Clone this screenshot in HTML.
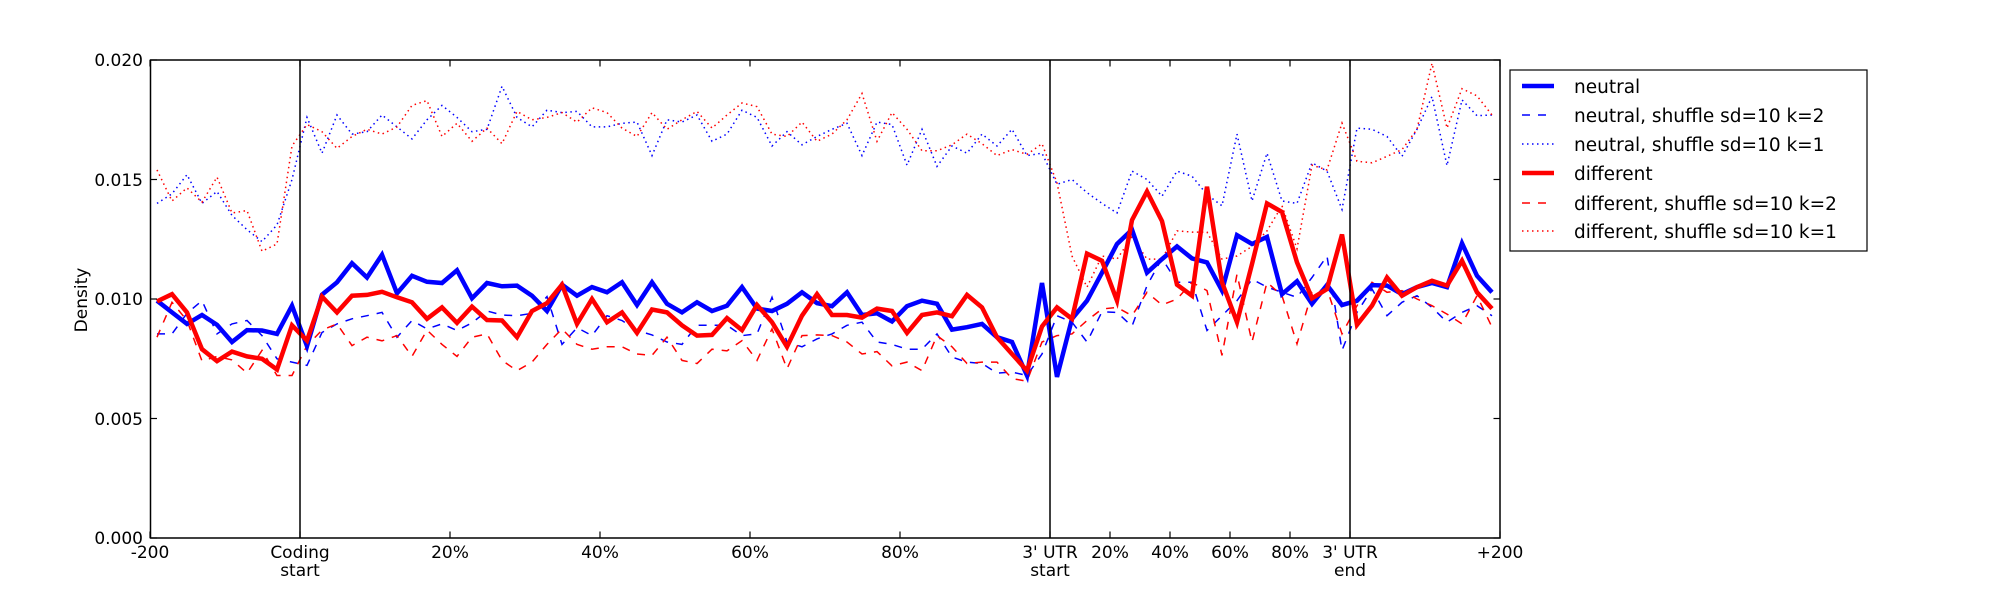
<!DOCTYPE html>
<html><head><meta charset="utf-8"><style>
html,body{margin:0;padding:0;background:#fff;}
svg{display:block;font-family:"DejaVu Sans","Liberation Sans",sans-serif;}
</style></head><body>
<svg id="s" width="2000" height="600" xmlns="http://www.w3.org/2000/svg">
<rect width="2000" height="600" fill="#fff"/>
<g id="lines"></g>
<g stroke="#000" stroke-width="1.5">
<line x1="300" y1="60" x2="300" y2="538"/>
<line x1="1050" y1="60" x2="1050" y2="538"/>
<line x1="1350" y1="60" x2="1350" y2="538"/>
</g>
<rect x="150.5" y="60" width="1349.5" height="478" fill="none" stroke="#000" stroke-width="1.5"/>
<g id="ticks" stroke="#000" stroke-width="1.2"></g>
<g font-size="17" fill="#000">
<text x="143" y="66" text-anchor="end">0.020</text>
<text x="143" y="186" text-anchor="end">0.015</text>
<text x="143" y="305" text-anchor="end">0.010</text>
<text x="143" y="425" text-anchor="end">0.005</text>
<text x="143" y="544" text-anchor="end">0.000</text>
<text x="87" y="300" text-anchor="middle" transform="rotate(-90 87 300)">Density</text>
<g text-anchor="middle">
<text x="150" y="558">-200</text>
<text x="300" y="558">Coding</text><text x="300" y="576">start</text>
<text x="450" y="558">20%</text>
<text x="600" y="558">40%</text>
<text x="750" y="558">60%</text>
<text x="900" y="558">80%</text>
<text x="1050" y="558">3' UTR</text><text x="1050" y="576">start</text>
<text x="1110" y="558">20%</text>
<text x="1170" y="558">40%</text>
<text x="1230" y="558">60%</text>
<text x="1290" y="558">80%</text>
<text x="1350" y="558">3' UTR</text><text x="1350" y="576">end</text>
<text x="1500" y="558">+200</text>
</g>
</g>
<rect x="1510" y="70" width="357" height="181" fill="#fff" stroke="#000" stroke-width="1.2"/>
<g stroke-width="1.5">
<line x1="1522" y1="86" x2="1554" y2="86" stroke="#0000ff" stroke-width="4.5"/>
<line x1="1522" y1="115" x2="1554" y2="115" stroke="#0000ff" stroke-dasharray="8,8"/>
<line x1="1522" y1="144" x2="1554" y2="144" stroke="#0000ff" stroke-dasharray="1.5,3.5"/>
<line x1="1522" y1="173" x2="1554" y2="173" stroke="#ff0000" stroke-width="4.5"/>
<line x1="1522" y1="203" x2="1554" y2="203" stroke="#ff0000" stroke-dasharray="8,8"/>
<line x1="1522" y1="231" x2="1554" y2="231" stroke="#ff0000" stroke-dasharray="1.5,3.5"/>
</g>
<g font-size="18.5" fill="#000">
<text x="1574" y="93">neutral</text>
<text x="1574" y="122">neutral, shuffle sd=10 k=2</text>
<text x="1574" y="151">neutral, shuffle sd=10 k=1</text>
<text x="1574" y="180">different</text>
<text x="1574" y="210">different, shuffle sd=10 k=2</text>
<text x="1574" y="238">different, shuffle sd=10 k=1</text>
</g>
</svg>
<script>
var D={
bs:[9.93,9.44,8.96,9.33,8.92,8.2,8.7,8.68,8.54,9.72,8.03,10.18,10.7,11.5,10.9,11.85,10.24,10.97,10.72,10.67,11.2,10.03,10.67,10.53,10.56,10.14,9.5,10.6,10.14,10.5,
10.28,10.7,9.75,10.7,9.8,9.44,9.86,9.5,9.72,10.5,9.6,9.5,9.8,10.28,9.83,9.7,10.28,9.33,9.4,9.06,9.7,9.93,9.8,8.72,8.82,8.96,8.4,8.2,6.8,10.67,6.74,9.17,9.93,11.1,12.3,12.9,11.1,11.67,12.2,11.7,
11.53,10.35,12.67,12.3,12.6,10.2,10.74,9.8,10.58,9.75,9.93,10.58,10.56,10.2,10.5,10.67,10.5,12.33,10.97,10.28],
rs:[9.9,10.2,9.44,7.9,7.4,7.8,7.6,7.5,7.05,8.9,8.26,10.1,9.44,10.14,10.17,10.3,10.07,9.86,9.17,9.65,9.0,9.68,9.12,9.1,8.4,9.5,9.83,10.6,8.96,10.0,
9.03,9.44,8.58,9.56,9.44,8.9,8.47,8.5,9.2,8.7,9.75,9.03,8.0,9.3,10.2,9.33,9.33,9.22,9.6,9.5,8.58,9.33,9.44,9.28,10.17,9.65,8.4,7.7,7.0,8.85,9.65,9.17,11.9,11.6,9.93,13.3,14.5,13.26,10.6,10.14,
14.7,10.7,9.03,11.46,14.0,13.64,11.53,10.03,10.42,12.7,8.92,9.72,10.9,10.14,10.5,10.76,10.56,11.6,10.28,9.6],
bd:[8.54,8.54,9.4,9.93,8.54,8.96,9.1,8.47,7.5,7.36,7.22,8.6,8.96,9.17,9.3,9.44,8.4,9.1,8.75,8.96,8.68,9.0,9.5,9.33,9.3,9.4,10.1,8.1,8.8,8.47,
9.3,9.1,8.68,8.5,8.2,8.1,8.9,8.9,8.9,8.47,8.54,10.07,8.2,8.0,8.33,8.54,8.9,9.03,8.2,8.1,7.9,7.9,8.54,7.57,7.36,7.3,6.9,6.94,6.8,7.7,9.3,9.03,8.2,9.47,9.44,8.86,10.56,11.7,10.7,10.7,
8.68,9.3,9.93,10.83,10.5,10.28,10.07,10.9,11.8,7.85,9.44,10.42,9.3,9.86,10.14,9.65,9.03,9.44,9.72,9.3],
rd:[8.4,9.86,9.1,7.4,7.6,7.45,6.9,7.85,6.8,6.8,8.05,8.7,8.96,8.05,8.4,8.25,8.47,7.6,8.7,8.1,7.6,8.4,8.54,7.43,7.0,7.36,8.1,8.75,8.1,7.9,
8.0,8.0,7.7,7.64,8.4,7.43,7.3,7.9,7.83,8.26,7.43,8.75,7.08,8.47,8.5,8.47,8.2,7.7,7.8,7.2,7.36,7.0,8.47,8.0,7.3,7.36,7.36,6.67,6.56,8.2,8.47,8.54,9.1,9.58,9.65,9.3,10.28,9.75,10.0,10.7,
10.35,7.64,11.04,8.2,10.7,10.14,8.12,10.28,10.42,8.54,9.72,10.7,10.28,10.35,10.0,9.72,9.37,8.96,10.14,8.82],
bt:[14.0,14.4,15.2,14.0,14.5,13.5,12.9,12.4,13.1,15.0,17.6,16.1,17.7,16.9,17.0,17.7,17.2,16.7,17.5,18.1,17.6,17.0,17.1,18.9,17.6,17.2,17.9,17.8,17.85,17.2,
17.2,17.35,17.4,16.0,17.5,17.4,17.7,16.6,16.9,17.9,17.6,16.4,17.0,16.45,16.8,17.1,17.35,16.0,17.4,17.3,15.6,17.1,15.55,16.4,16.1,16.9,16.4,17.1,16.0,16.1,14.8,15.0,14.45,14.0,13.6,15.35,15.0,14.3,15.35,15.14,
14.37,13.9,16.9,14.1,16.1,14.1,14.0,15.7,15.35,13.75,17.15,17.1,16.8,15.97,17.1,18.47,15.58,18.33,17.67,17.7],
rt:[15.4,14.1,14.65,14.05,15.1,13.6,13.7,12.0,12.3,16.4,17.3,17.0,16.3,16.8,17.1,16.9,17.2,18.1,18.3,16.8,17.35,16.6,17.15,16.5,17.85,17.5,17.6,17.8,17.4,18.0,
17.8,17.15,16.8,17.8,17.1,17.5,17.85,17.15,17.7,18.2,18.05,16.9,16.8,17.4,16.6,16.9,17.5,18.6,16.6,17.8,17.1,16.2,16.2,16.45,16.9,16.5,16.0,16.25,16.05,16.5,14.86,11.8,10.5,11.8,11.67,12.6,11.67,11.67,12.85,12.8,
12.8,11.67,11.8,12.2,12.85,13.9,12.1,15.6,15.4,17.36,15.76,15.7,15.97,16.25,17.1,19.86,17.15,18.8,18.5,17.7]
};
function pts(a){return a.map(function(v,i){return (157+15*i)+','+(538-v*23.9).toFixed(1)}).join(' ');}
var S=[['bt','#0000ff','1.5','1.5,3.5'],['rt','#ff0000','1.5','1.5,3.5'],['bd','#0000ff','1.5','8,8'],['rd','#ff0000','1.5','8,8'],['bs','#0000ff','4.5',''],['rs','#ff0000','4.5','']];
var h='';
S.forEach(function(s){h+='<polyline fill="none" stroke-linejoin="miter" points="'+pts(D[s[0]])+'" stroke="'+s[1]+'" stroke-width="'+s[2]+'"'+(s[3]?' stroke-dasharray="'+s[3]+'"':'')+'/>';});
document.getElementById('lines').innerHTML=h;
var t='';
[60,179.5,299,418.5,538].forEach(function(y){t+='<line x1="150.5" y1="'+y+'" x2="157" y2="'+y+'"/><line x1="1500" y1="'+y+'" x2="1493.5" y2="'+y+'"/>';});
[150,300,450,600,750,900,1050,1110,1170,1230,1290,1350,1500].forEach(function(x){t+='<line x1="'+x+'" y1="538" x2="'+x+'" y2="531.5"/><line x1="'+x+'" y1="60" x2="'+x+'" y2="66.5"/>';});
document.getElementById('ticks').innerHTML=t;
</script>
</body></html>
